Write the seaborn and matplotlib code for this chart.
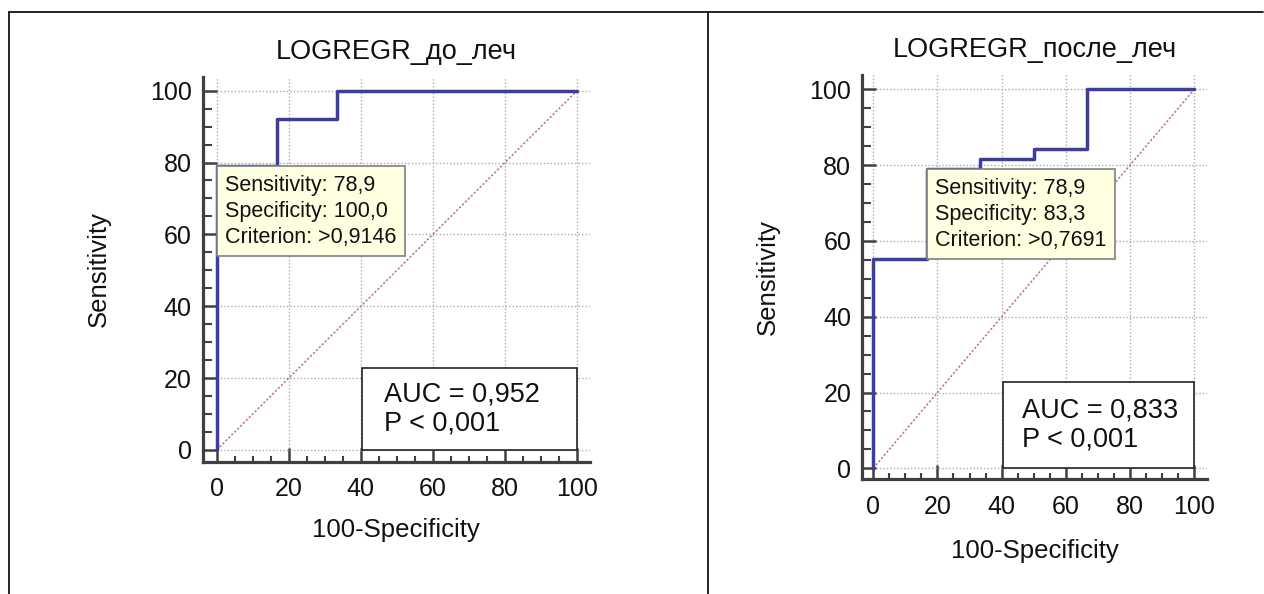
import matplotlib.pyplot as plt
import seaborn as sns
from matplotlib.lines import Line2D
from matplotlib.patches import Rectangle

# ROC points (100-Specificity, Sensitivity)
fpr_before = [0, 0, 16.7, 16.7, 33.3, 33.3, 100]
tpr_before = [0, 78.9, 78.9, 92.1, 92.1, 100, 100]
fpr_after = [0, 0, 16.7, 16.7, 33.3, 33.3, 50, 50, 66.7, 66.7, 100]
tpr_after = [0, 55.3, 55.3, 78.9, 78.9, 81.6, 81.6, 84.2, 84.2, 100, 100]

titles = ["LOGREGR_до_леч", "LOGREGR_после_леч"]
auc_values = ["0,952", "0,833"]
p_values = ["0,001", "0,001"]
cut_sens = [78.9, 78.9]
cut_spec = [100.0, 83.3]
criteria = [">0,9146", ">0,7691"]
ticks = [0, 20, 40, 60, 80, 100]

sns.set_style("white")
plt.rcParams['font.family'] = ['Liberation Sans', 'DejaVu Sans']

fig = plt.figure(figsize=(12.64, 5.94), dpi=100)
W, H = 1264, 594

def px_axes(x0, x1, ytop, ybot):
    return fig.add_axes([x0 / W, 1 - ybot / H, (x1 - x0) / W, (ybot - ytop) / H])

ax1 = px_axes(202.7, 590, 76.7, 461.7)
ax2 = px_axes(862.3, 1206.7, 75, 479.3)
lims = [((-3.9, 103.6), (-3.3, 103.9)), ((-3.4, 103.9), (-2.9, 103.8))]
curves = [(fpr_before, tpr_before), (fpr_after, tpr_after)]
ylabelpad = [28, 21]
xlabelpad = [12, 15]

for i, ax in enumerate([ax1, ax2]):
    fx, ty = curves[i]
    ax.plot([0, 100], [0, 100], color='#c07878', lw=1.1, ls=(0, (1.5, 1.2)), zorder=2)
    sns.lineplot(x=fx, y=ty, ax=ax, sort=False, estimator=None,
                 color='#3d3da0', lw=2.5, zorder=4)
    ax.set_xlim(*lims[i][0])
    ax.set_ylim(*lims[i][1])
    ax.set_xticks(ticks)
    ax.set_yticks(ticks)
    ax.set_xticks(range(0, 101, 5), minor=True)
    ax.set_yticks(range(0, 101, 5), minor=True)
    ax.grid(True, which='major', color='#ababab', lw=1, ls=(0, (1, 1.5)))
    ax.set_axisbelow(True)
    for s in ['top', 'right']:
        ax.spines[s].set_visible(False)
    for s in ['left', 'bottom']:
        ax.spines[s].set_color('#404040')
        ax.spines[s].set_linewidth(2.3)
    ax.tick_params(which='both', bottom=True, left=True, top=False, right=False)
    ax.tick_params(which='major', direction='in', length=10, width=1.8,
                   color='#404040', labelsize=18, pad=8, labelcolor='#111111')
    ax.tick_params(axis='y', which='minor', direction='in', length=6.5, width=1.5, color='#404040')
    ax.tick_params(axis='x', which='minor', direction='in', length=4, width=1.5, color='#404040')
    ax.tick_params(axis='x', which='major', pad=11)
    ax.set_title(titles[i], fontsize=19.5, pad=13, color='#111111')
    ax.set_xlabel("100-Specificity", fontsize=18.5, color='#111111', labelpad=xlabelpad[i])
    ax.set_ylabel("Sensitivity", fontsize=18.5, color='#111111', labelpad=ylabelpad[i])

    # tooltip at the chosen cut-off point
    txt = (f"Sensitivity: {cut_sens[i]:.1f}\nSpecificity: {cut_spec[i]:.1f}\n"
           f"Criterion: {criteria[i]}").replace('.', ',')
    ax.annotate(txt, xy=(100 - cut_spec[i], cut_sens[i]), xytext=(6.2, -6.2),
                textcoords='offset points', ha='left', va='top', fontsize=15.5,
                linespacing=1.3, color='#111111', zorder=6,
                bbox=dict(boxstyle='square,pad=0.4', fc='#ffffe1', ec='#808080', lw=1.2))

    # AUC box anchored at bottom-right corner
    ax.add_patch(Rectangle((40.4, 0), 59.6, 22.9, fc='white', ec='#222222', lw=1.2, zorder=5))
    ax.text(46.5, 11.4, f"AUC = {auc_values[i]}\nP < {p_values[i]}", fontsize=19.5,
            ha='left', va='center', linespacing=1.15, color='#111111', zorder=6)

# table borders
fig.add_artist(Line2D([9 / W, 1263 / W], [1 - 12 / H, 1 - 12 / H], color='black', lw=1.2))
fig.add_artist(Line2D([9 / W, 9 / W], [0, 1 - 12 / H], color='black', lw=1.2))
fig.add_artist(Line2D([708 / W, 708 / W], [0, 1 - 12 / H], color='black', lw=1.2))

fig.savefig("out.png", dpi=100)
